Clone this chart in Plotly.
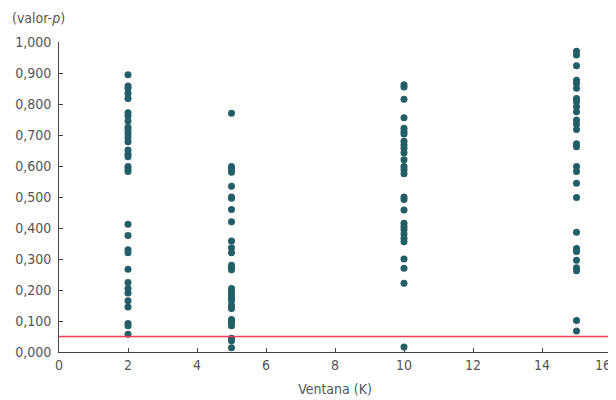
import plotly.graph_objects as go

k2 = [0.894, 0.858, 0.85, 0.834, 0.818, 0.772, 0.762, 0.745, 0.725, 0.716, 0.705, 0.692, 0.678,
      0.652, 0.638, 0.630, 0.598, 0.590, 0.582, 0.412, 0.376, 0.330, 0.320, 0.267, 0.224, 0.205,
      0.190, 0.165, 0.145, 0.092, 0.085, 0.057]
k5 = [0.770, 0.598, 0.590, 0.580, 0.535, 0.500, 0.496, 0.460, 0.420, 0.358, 0.336, 0.320, 0.280,
      0.272, 0.265, 0.205, 0.195, 0.185, 0.175, 0.165, 0.150, 0.140, 0.105, 0.100, 0.093, 0.085,
      0.044, 0.036, 0.014]
k10 = [0.862, 0.855, 0.815, 0.756, 0.722, 0.711, 0.703, 0.680, 0.668, 0.657, 0.643, 0.620, 0.598,
       0.588, 0.575, 0.500, 0.492, 0.458, 0.415, 0.404, 0.394, 0.381, 0.367, 0.356, 0.300, 0.270,
       0.222, 0.016]
k15 = [0.970, 0.958, 0.923, 0.877, 0.867, 0.851, 0.818, 0.807, 0.791, 0.775, 0.748, 0.735, 0.718,
       0.672, 0.662, 0.598, 0.582, 0.544, 0.498, 0.386, 0.334, 0.324, 0.296, 0.272, 0.262, 0.102,
       0.068]
windows = [2, 5, 10, 15]
series = [k2, k5, k10, k15]
threshold = 0.05
xticks = [0, 2, 4, 6, 8, 10, 12, 14, 16]
xticklabels = ["0", "2", "4", "6", "8", "10", "12", "14", "16\u2007\u2007"]
yticks = [0, 0.1, 0.2, 0.3, 0.4, 0.5, 0.6, 0.7, 0.8, 0.9, 1.0]

FONT = "DejaVu Sans Condensed, Liberation Sans Narrow, sans-serif"

xs, ys = [], []
for w, vals in zip(windows, series):
    xs += [w] * len(vals)
    ys += vals

fig = go.Figure()
fig.add_trace(go.Scatter(x=xs, y=ys, mode="markers",
                         marker=dict(color="#235E66", size=7, line=dict(width=0)),
                         cliponaxis=False, showlegend=False))
fig.add_shape(type="line", x0=0, x1=16, y0=threshold, y1=threshold, xref="x", yref="y",
              line=dict(color="#EE3E50", width=1.3))

# page body has an 8px margin; the plot area is placed so it lines up with the window
fig.update_layout(
    width=616, height=392,
    margin=dict(l=51, r=13, t=34, b=48),
    plot_bgcolor="white", paper_bgcolor="white",
    separators=",.",
    font=dict(family=FONT, size=14, color="#555555"),
    xaxis=dict(range=[0, 16], tickvals=xticks, ticktext=xticklabels, showgrid=False, zeroline=False,
               showline=True, linecolor="#444444", linewidth=1, automargin=False,
               ticks="inside", ticklen=4, tickcolor="#444444", ticklabeloverflow="allow",
               title=dict(text="Ventana (K)", standoff=12, font=dict(size=14, color="#555555"))),
    yaxis=dict(range=[0, 1.0], tickvals=yticks, tickformat=".3f", showgrid=False, zeroline=False,
               showline=True, linecolor="#444444", linewidth=1, automargin=False,
               ticks="inside", ticklen=4, tickcolor="#444444", ticklabeloverflow="allow",
               ticklabelstandoff=4),
    annotations=[dict(text="(valor-<i>p</i>)", xref="paper", yref="paper", x=-0.089, y=1.077,
                      xanchor="left", yanchor="middle", showarrow=False)],
)
fig.write_html("out.html")
